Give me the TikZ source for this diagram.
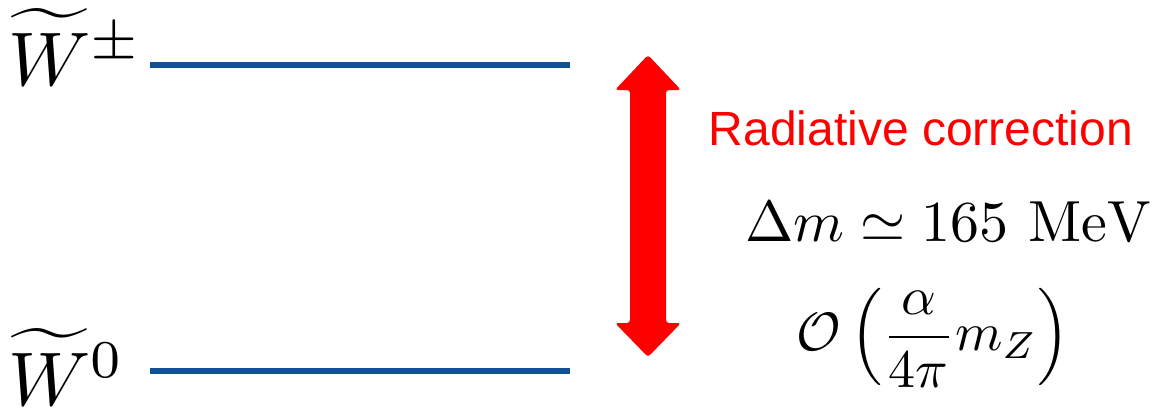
\documentclass[tikz,border=0pt]{standalone}
\usepackage{amsmath}
\usepackage{graphicx}
\usepackage{fontspec}
\newfontfamily\arialfont{Liberation Sans}
\definecolor{levelblue}{RGB}{16,82,148}
\definecolor{arrred}{RGB}{255,0,0}
\tikzset{
  level/.style={draw=levelblue, line width=6pt},
  statelabel/.style={inner sep=0pt, anchor=base west},
  mathlabel/.style={inner sep=0pt, anchor=base},
  redlabel/.style={inner sep=0pt, anchor=base, text=arrred, font=\arialfont\fontsize{48}{52}\selectfont},
  bigarrow/.style={fill=arrred, rounded corners=3pt}
}
\begin{document}
\begin{tikzpicture}[x=1pt,y=-1pt]
\useasboundingbox (0,0) rectangle (1155,410);
% state labels
\node[statelabel] (wpm) at (8,85) {\scalebox{7.6}{$\widetilde{W}^{\pm}$}};
\node[statelabel] (w0) at (8,405) {\scalebox{7.6}{$\widetilde{W}^{0}$}};
% levels
\coordinate (t1) at (150,65);
\coordinate (t2) at (570,65);
\coordinate (b1) at (150,371);
\coordinate (b2) at (570,371);
\draw[level] (t1) -- (t2);
\draw[level] (b1) -- (b2);
% double arrow
\fill[bigarrow] (648,55) -- (681,90) -- (666,90) -- (666,323) -- (681,323) -- (648,357)
  -- (615,323) -- (630,323) -- (630,90) -- (615,90) -- cycle;
% texts
\node[redlabel] (rad) at (921,145) {Radiative correction};
\node[mathlabel] (dm) at (948,241) {\scalebox{5.8}{$\Delta m \simeq 165~\mathrm{MeV}$}};
\node[inner sep=0pt] (ord) at (933,338) {\scalebox{5.4}{$\displaystyle \mathcal{O}\left(\frac{\alpha}{4\pi}m_Z\right)$}};
\end{tikzpicture}
\end{document}
